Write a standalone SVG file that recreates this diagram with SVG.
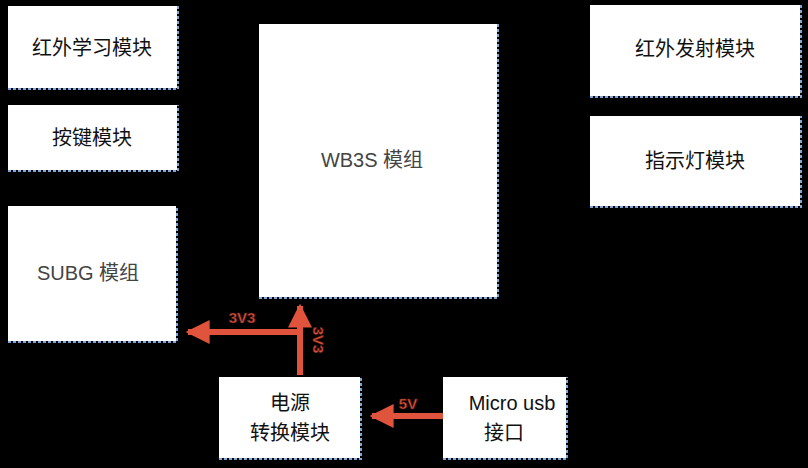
<svg xmlns="http://www.w3.org/2000/svg" width="808" height="468" viewBox="0 0 808 468">
<style>
.b{fill:#fff}
.e{fill:none;stroke:#7fa6d8;stroke-width:2;stroke-dasharray:3 2}
.t{font-family:"Liberation Sans","Noto Sans CJK SC",sans-serif;font-size:20px;fill:#111;text-anchor:middle}
.g{fill:#444}
.a{stroke:#e0533c;stroke-width:6;fill:none}
.l{font-family:"Liberation Sans",sans-serif;font-weight:bold;font-size:15px;fill:#e0533c;stroke:#5a1a10;stroke-width:0.6;text-anchor:middle}
</style>
<defs>
<marker id="m" viewBox="0 0 10 10" refX="9" refY="5" markerWidth="4" markerHeight="4" orient="auto" markerUnits="strokeWidth"><path d="M0,0L10,5L0,10z" fill="#e0533c"/></marker>
</defs>
<rect width="808" height="468" fill="#000"/>
<g id="n1"><rect class="b" x="8" y="6" width="169" height="82"/><path class="e" d="M8,89H178V6"/><text class="t" x="92" y="55">红外学习模块</text></g>
<g id="n2"><rect class="b" x="8" y="105" width="169" height="65"/><path class="e" d="M8,171H178V105"/><text class="t" x="92" y="145">按键模块</text></g>
<g id="n3"><rect class="b" x="8" y="206" width="168" height="135"/><path class="e" d="M8,342H177V206"/><text class="t g" x="88" y="280">SUBG 模组</text></g>
<g id="n4"><rect class="b" x="259" y="24" width="238" height="273"/><path class="e" d="M259,298H498V24"/><text class="t g" x="372" y="167">WB3S 模组</text></g>
<g id="n5"><rect class="b" x="590" y="5" width="210" height="91"/><path class="e" d="M590,97H801V5"/><text class="t" x="695" y="56">红外发射模块</text></g>
<g id="n6"><rect class="b" x="590" y="116" width="210" height="90"/><path class="e" d="M590,207H801V116"/><text class="t" x="695" y="168">指示灯模块</text></g>
<g id="n7"><rect class="b" x="219" y="377" width="141" height="81"/><path class="e" d="M219,459H361V377"/><text class="t" x="290" y="410">电源</text><text class="t" x="290" y="440">转换模块</text></g>
<g id="n8"><rect class="b" x="443" y="377" width="123" height="81"/><path class="e" d="M443,459H567V377"/><text class="t" x="512" y="410">Micro usb</text><text class="t" x="504" y="440">接口</text></g>
<g id="edges">
<path class="a" d="M300,375V306" marker-end="url(#m)"/>
<path class="a" d="M303,332H188" marker-end="url(#m)"/>
<path class="a" d="M443,416H372" marker-end="url(#m)"/>
<text class="l" x="242" y="323">3V3</text>
<text class="l" transform="translate(313,340) rotate(90)">3V3</text>
<text class="l" x="408" y="409">5V</text>
</g>
</svg>
